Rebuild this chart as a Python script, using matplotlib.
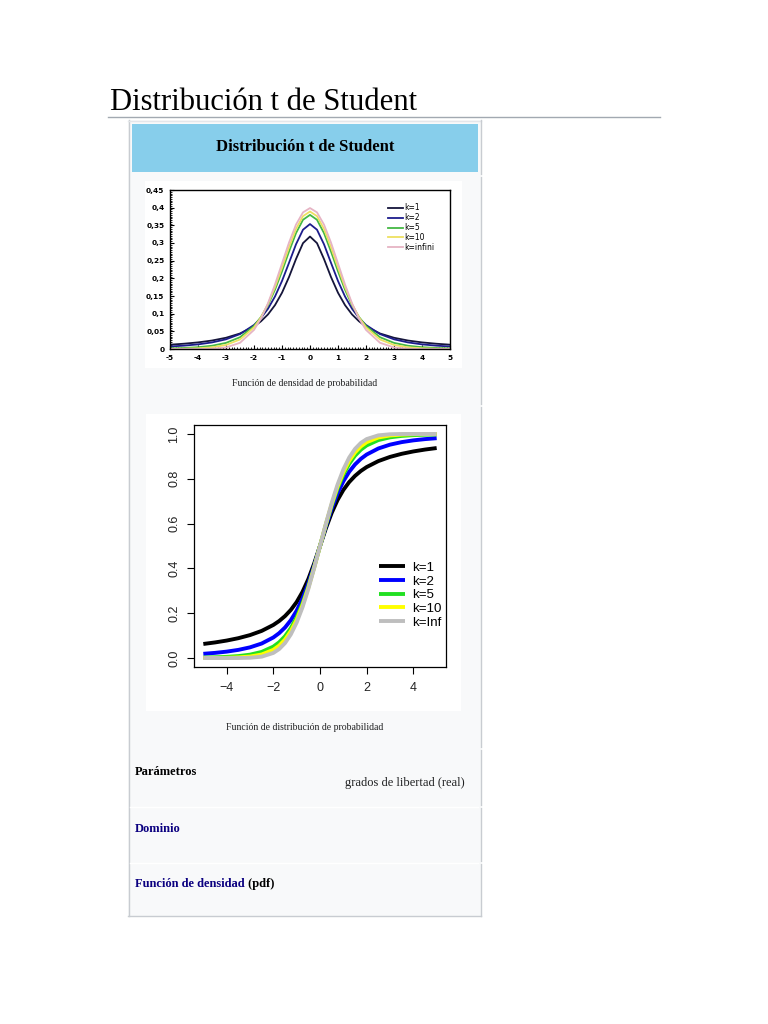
import matplotlib
matplotlib.use('Agg')
import matplotlib.pyplot as plt
import matplotlib.ticker as mticker
from matplotlib.patches import Rectangle

# valores
x_vals = [-5, -4.5, -4, -3.5, -3, -2.5, -2, -1.75, -1.5, -1.25, -1, -0.75, -0.5, -0.25, 0,
          0.25, 0.5, 0.75, 1, 1.25, 1.5, 1.75, 2, 2.5, 3, 3.5, 4, 4.5, 5]

pdf_k1 = [0.0122, 0.0150, 0.0187, 0.0240, 0.0318, 0.0439, 0.0637, 0.0784, 0.0979, 0.1242,
          0.1592, 0.2037, 0.2546, 0.2996, 0.3183, 0.2996, 0.2546, 0.2037, 0.1592, 0.1242,
          0.0979, 0.0784, 0.0637, 0.0439, 0.0318, 0.0240, 0.0187, 0.0150, 0.0122]
pdf_k2 = [0.0071, 0.0095, 0.0131, 0.0186, 0.0274, 0.0422, 0.0680, 0.0878, 0.1141, 0.1487,
          0.1925, 0.2438, 0.2963, 0.3376, 0.3536, 0.3376, 0.2963, 0.2438, 0.1925, 0.1487,
          0.1141, 0.0878, 0.0680, 0.0422, 0.0274, 0.0186, 0.0131, 0.0095, 0.0071]
pdf_k5 = [0.0018, 0.0029, 0.0051, 0.0092, 0.0173, 0.0333, 0.0651, 0.0905, 0.1245, 0.1679,
          0.2197, 0.2757, 0.3279, 0.3657, 0.3796, 0.3657, 0.3279, 0.2757, 0.2197, 0.1679,
          0.1245, 0.0905, 0.0651, 0.0333, 0.0173, 0.0092, 0.0051, 0.0029, 0.0018]
pdf_k10 = [0.0004, 0.0009, 0.0020, 0.0048, 0.0114, 0.0269, 0.0611, 0.0895, 0.1275, 0.1751,
           0.2304, 0.2880, 0.3397, 0.3760, 0.3891, 0.3760, 0.3397, 0.2880, 0.2304, 0.1751,
           0.1275, 0.0895, 0.0611, 0.0269, 0.0114, 0.0048, 0.0020, 0.0009, 0.0004]
pdf_inf = [0.0000, 0.0000, 0.0001, 0.0009, 0.0044, 0.0175, 0.0540, 0.0863, 0.1295, 0.1826,
           0.2420, 0.3011, 0.3521, 0.3867, 0.3989, 0.3867, 0.3521, 0.3011, 0.2420, 0.1826,
           0.1295, 0.0863, 0.0540, 0.0175, 0.0044, 0.0009, 0.0001, 0.0000, 0.0000]

cdf_k1 = [0.0628, 0.0696, 0.0780, 0.0886, 0.1024, 0.1211, 0.1476, 0.1652, 0.1872, 0.2148,
          0.2500, 0.2952, 0.3524, 0.4220, 0.5000, 0.5780, 0.6476, 0.7048, 0.7500, 0.7852,
          0.8128, 0.8348, 0.8524, 0.8789, 0.8976, 0.9114, 0.9220, 0.9304, 0.9372]
cdf_k2 = [0.0189, 0.0230, 0.0286, 0.0364, 0.0477, 0.0648, 0.0918, 0.1111, 0.1362, 0.1689,
          0.2113, 0.2657, 0.3333, 0.4130, 0.5000, 0.5870, 0.6667, 0.7343, 0.7887, 0.8311,
          0.8638, 0.8889, 0.9082, 0.9352, 0.9523, 0.9636, 0.9714, 0.9770, 0.9811]
cdf_k5 = [0.0021, 0.0032, 0.0052, 0.0087, 0.0150, 0.0273, 0.0510, 0.0703, 0.0970, 0.1335,
          0.1816, 0.2434, 0.3191, 0.4063, 0.5000, 0.5937, 0.6809, 0.7566, 0.8184, 0.8665,
          0.9030, 0.9297, 0.9490, 0.9727, 0.9850, 0.9913, 0.9948, 0.9968, 0.9979]
cdf_k10 = [0.0003, 0.0006, 0.0013, 0.0029, 0.0067, 0.0157, 0.0367, 0.0554, 0.0823, 0.1199,
           0.1704, 0.2353, 0.3140, 0.4038, 0.5000, 0.5962, 0.6860, 0.7647, 0.8296, 0.8801,
           0.9177, 0.9446, 0.9633, 0.9843, 0.9933, 0.9971, 0.9987, 0.9994, 0.9997]
cdf_inf = [0.0000, 0.0000, 0.0000, 0.0002, 0.0013, 0.0062, 0.0228, 0.0401, 0.0668, 0.1056,
           0.1587, 0.2266, 0.3085, 0.4013, 0.5000, 0.5987, 0.6915, 0.7734, 0.8413, 0.8944,
           0.9332, 0.9599, 0.9772, 0.9938, 0.9987, 0.9998, 1.0000, 1.0000, 1.0000]

pdf_labels = ['k=1', 'k=2', 'k=5', 'k=10', 'k=infini']
pdf_colors = ['#15153a', '#1c1c8c', '#44b844', '#eee060', '#e6b4c4']
cdf_labels = ['k=1', 'k=2', 'k=5', 'k=10', 'k=Inf']
cdf_colors = ['#000000', '#0000ff', '#22e022', '#ffff00', '#bebebe']
pdf_xticks = [-5, -4, -3, -2, -1, 0, 1, 2, 3, 4, 5]
pdf_xlabels = ['-5', '-4', '-3', '-2', '-1', '0', '1', '2', '3', '4', '5']
pdf_yticks = [0, 0.05, 0.1, 0.15, 0.2, 0.25, 0.3, 0.35, 0.4, 0.45]
pdf_ylabels = ['0', '0,05', '0,1', '0,15', '0,2', '0,25', '0,3', '0,35', '0,4', '0,45']

W, H = 768, 1024
fig = plt.figure(figsize=(W / 100, H / 100), dpi=100)
fig.patch.set_facecolor('white')

# capa de maquetación en píxeles
bg = fig.add_axes([0, 0, 1, 1])
bg.set_xlim(0, W)
bg.set_ylim(H, 0)
bg.axis('off')

serif = 'Liberation Serif'
bg.text(110, 110, 'Distribución t de Student', fontsize=22.1, family=serif,
        color='#000000', ha='left', va='baseline')
bg.plot([108, 660], [116.5, 116.5], color='#a2a9b1', lw=1)

# caja de información
bg.add_patch(Rectangle((128, 120), 353, 796, facecolor='#f8f9fa',
                       edgecolor='none'))
bline = '#c8ccd1'
bg.plot([128.5, 128.5], [120, 916], color=bline, lw=1)
bg.plot([128, 481], [915.5, 915.5], color=bline, lw=1)
bg.plot([128, 481], [120.5, 120.5], color='#e4e6ea', lw=1)
for y0, y1 in [(120, 174), (177, 404), (407, 747), (750, 805), (808, 861), (864, 916)]:
    bg.plot([480.5, 480.5], [y0, y1], color=bline, lw=1)
for y in [806.5, 862.5]:
    bg.plot([130, 478], [y, y], color='#ffffff', lw=1)

bg.add_patch(Rectangle((132, 124), 346, 48, facecolor='#87ceeb', edgecolor='none'))
bg.text(305, 147, 'Distribución t de Student', fontsize=12, family=serif,
        weight='bold', ha='center', va='center', color='#000000')

# fondos blancos de las imágenes
bg.add_patch(Rectangle((145, 181), 317, 187, facecolor='white', edgecolor='none'))
bg.add_patch(Rectangle((146, 414), 315, 297, facecolor='white', edgecolor='none'))

bg.text(305, 383, 'Función de densidad de probabilidad', fontsize=7, family=serif,
        ha='center', va='center', color='#202122')
bg.text(305, 727, 'Función de distribución de probabilidad', fontsize=7, family=serif,
        ha='center', va='center', color='#202122')

bg.text(135, 772, 'Parámetros', fontsize=9, family=serif, weight='bold',
        ha='left', va='center', color='#000000')
bg.text(345, 783, 'grados de libertad (real)', fontsize=9, family=serif,
        ha='left', va='center', color='#202122')
bg.text(135, 829, 'Dominio', fontsize=9, family=serif, weight='bold',
        ha='left', va='center', color='#0b0080')
t = bg.text(135, 884, 'Función de densidad', fontsize=9, family=serif, weight='bold',
            ha='left', va='center', color='#0b0080')
fig.canvas.draw()
bb = t.get_window_extent()
x_end = bg.transData.inverted().transform((bb.x1, bb.y0))[0]
bg.text(x_end, 884, ' (pdf)', fontsize=9, family=serif, weight='bold',
        ha='left', va='center', color='#000000')


def px_axes(left, top, right, bottom):
    return fig.add_axes([left / W, 1 - bottom / H, (right - left) / W, (bottom - top) / H])


# gráfico de densidad
ax1 = px_axes(170, 190, 450, 349)
ax1.set_facecolor('white')
for vals, col, lab in zip([pdf_k1, pdf_k2, pdf_k5, pdf_k10, pdf_inf], pdf_colors, pdf_labels):
    ax1.plot(x_vals, vals, color=col, lw=1.3, label=lab)
ax1.set_xlim(-5, 5)
ax1.set_ylim(0, 0.45)
ax1.set_xticks(pdf_xticks)
ax1.set_xticklabels(pdf_xlabels)
ax1.set_yticks(pdf_yticks)
ax1.set_yticklabels(pdf_ylabels)
ax1.xaxis.set_minor_locator(mticker.MultipleLocator(0.1))
ax1.yaxis.set_minor_locator(mticker.MultipleLocator(0.005))
ax1.tick_params(which='major', direction='in', length=3, width=0.8, pad=4,
                labelsize=5.3)
ax1.tick_params(which='minor', direction='in', length=1.5, width=0.6)
for lbl in ax1.get_xticklabels() + ax1.get_yticklabels():
    lbl.set_fontweight('bold')
    lbl.set_family('DejaVu Sans')
for s in ax1.spines.values():
    s.set_linewidth(1)
leg1 = ax1.legend(loc='upper right', bbox_to_anchor=(0.955, 0.935), frameon=False,
                  prop={'family': 'DejaVu Sans', 'size': 5.5},
                  handlelength=2.0, handletextpad=0.1, labelspacing=0.12,
                  borderaxespad=0)

# gráfico de distribución
ax2 = px_axes(194, 425, 446, 667)
ax2.set_facecolor('white')
for vals, col, lab in zip([cdf_k1, cdf_k2, cdf_k5, cdf_k10, cdf_inf], cdf_colors, cdf_labels):
    ax2.plot(x_vals, vals, color=col, lw=2.8, label=lab, solid_capstyle='butt')
ax2.set_xlim(-5.4, 5.4)
ax2.set_ylim(-0.04, 1.04)
ax2.set_xticks([-4, -2, 0, 2, 4])
ax2.set_xticklabels(['\u22124', '\u22122', '0', '2', '4'])
ax2.set_yticks([0, 0.2, 0.4, 0.6, 0.8, 1.0])
ax2.set_yticklabels(['0.0', '0.2', '0.4', '0.6', '0.8', '1.0'], rotation=90, va='center')
ax2.tick_params(direction='out', length=5, width=0.8, labelsize=9, pad=6,
                colors='#000000', labelcolor='#222222')
ax2.tick_params(axis='y', pad=5)
for lbl in ax2.get_xticklabels() + ax2.get_yticklabels():
    lbl.set_family('Liberation Sans')
for s in ax2.spines.values():
    s.set_linewidth(0.9)
leg2 = ax2.legend(loc='lower right', bbox_to_anchor=(1.025, 0.115), frameon=False,
                  prop={'family': 'Liberation Sans', 'size': 9.6},
                  handlelength=1.95, handletextpad=0.55, labelspacing=0.1, borderaxespad=0.4)

fig.savefig('out.png', dpi=100, facecolor='white')
